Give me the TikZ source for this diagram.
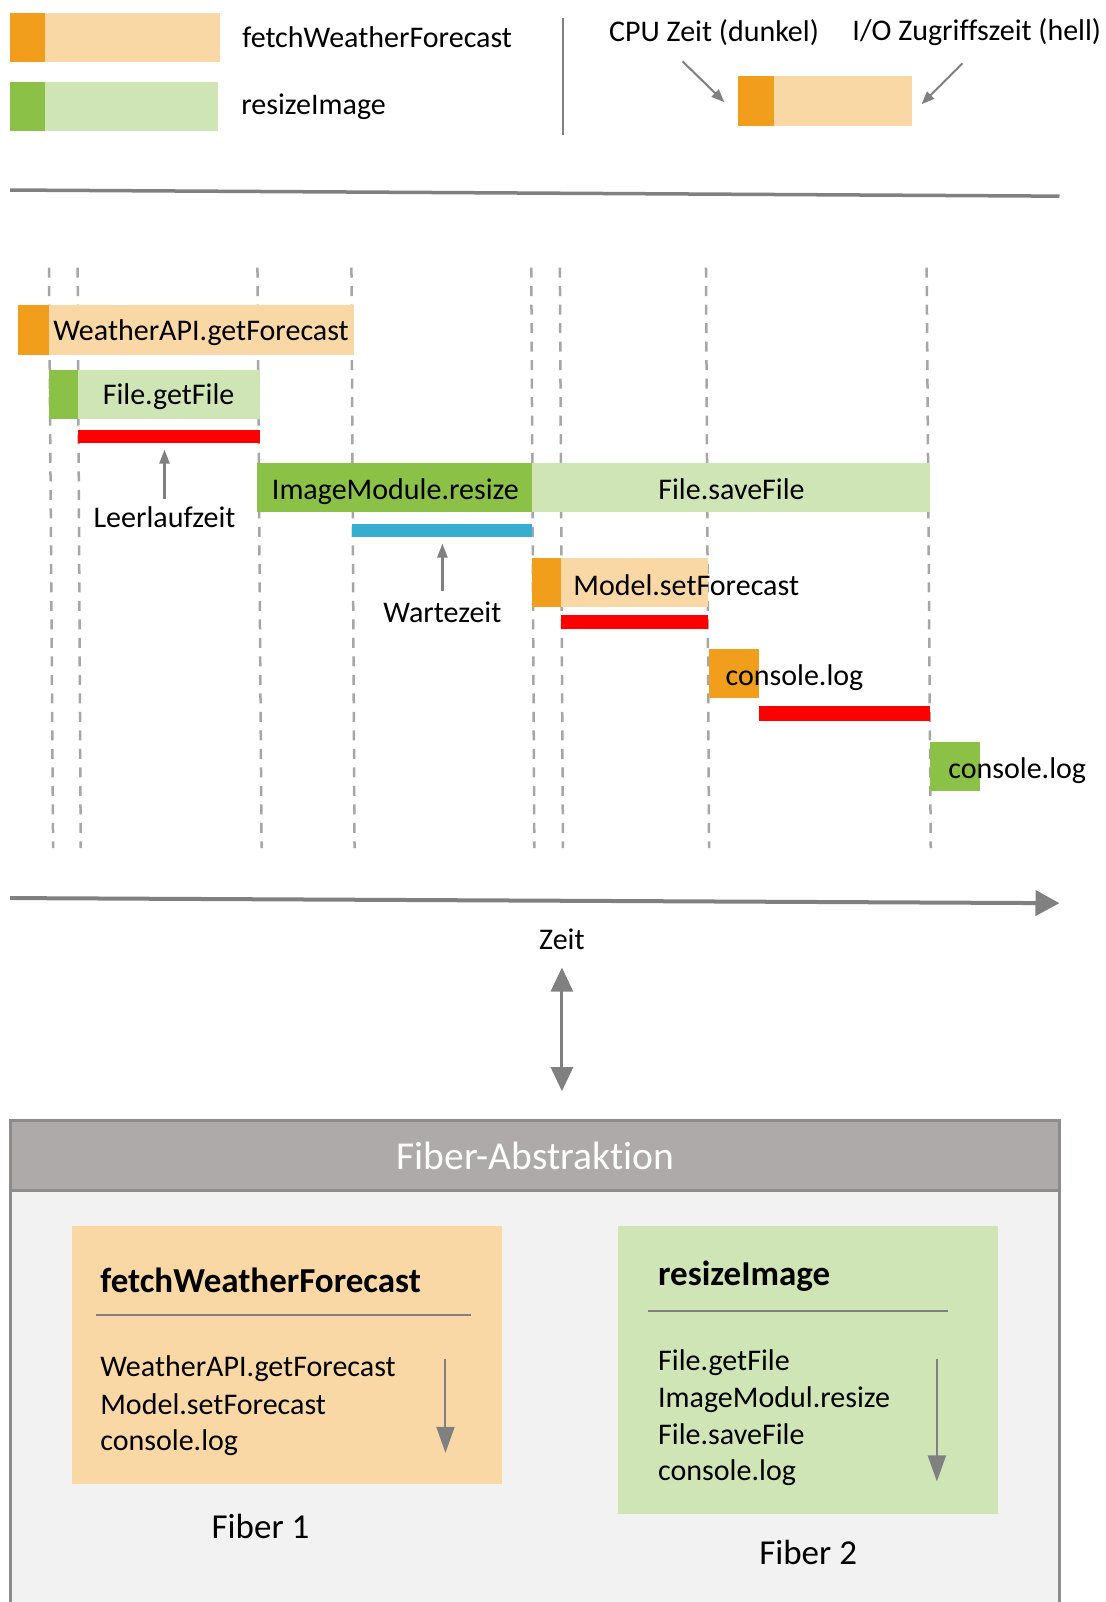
\documentclass[tikz,border=0pt]{standalone}
\usepackage{fontspec}
\setmainfont[Ligatures=NoCommon]{Carlito}
\usetikzlibrary{arrows.meta}

\definecolor{cpuOrange}{RGB}{241,158,28}
\definecolor{ioOrange}{RGB}{249,216,165}
\definecolor{cpuGreen}{RGB}{139,193,71}
\definecolor{ioGreen}{RGB}{208,229,181}
\definecolor{idleRed}{RGB}{255,0,0}
\definecolor{waitBlue}{RGB}{54,174,207}
\definecolor{lineGray}{RGB}{128,128,128}
\definecolor{dashGray}{RGB}{166,166,166}
\definecolor{headGray}{RGB}{173,170,169}
\definecolor{bodyGray}{RGB}{242,242,242}
\definecolor{frameGray}{RGB}{140,140,140}

\begin{document}
\begin{tikzpicture}[x=1.0213pt,y=-1.0213pt,
  txt/.style={inner sep=0pt, font=\fontsize{30}{36}\selectfont},
  boldtxt/.style={inner sep=0pt, font=\fontsize{35}{42}\selectfont\bfseries},
  fibertxt/.style={inner sep=0pt, font=\fontsize{35}{42}\selectfont},
  titletxt/.style={inner sep=0pt, font=\fontsize{39.5}{46}\selectfont, text=white},
  dashline/.style={draw=dashGray, line width=2.5pt, dash pattern=on 10pt off 8.5pt},
  rule/.style={draw=lineGray, line width=3.5pt},
  smallarrow/.style={draw=lineGray, line width=2pt, -{Triangle[length=13pt,width=10pt]}},
  markarrow/.style={draw=lineGray, line width=2.5pt, -{Triangle[length=14pt,width=10pt]}},
  bigarrow/.style={draw=lineGray, line width=3pt, {Triangle[length=24pt,width=22pt]}-{Triangle[length=24pt,width=22pt]}},
  listarrow/.style={draw=lineGray, line width=2pt, -{Triangle[length=26pt,width=18pt]}},
  axis/.style={draw=lineGray, line width=4pt, -{Triangle[length=24pt,width=25pt]}},
  frame/.style={draw=frameGray, line width=3pt}
]
\useasboundingbox (0,0) rectangle (1082,1568);

% ---------- legend ----------
\fill[ioOrange]  (10,13) rectangle (215,61);
\fill[cpuOrange] (10,13) rectangle (44,61);
\fill[ioGreen]   (10,80) rectangle (213,128);
\fill[cpuGreen]  (10,80) rectangle (44,128);
\node[txt, anchor=base west] (lgFetch)  at (237,46.5) {fetchWeatherForecast};
\node[txt, anchor=base west] (lgResize) at (236,112)  {resizeImage};

\draw[draw=lineGray, line width=2.5pt] (551,18) -- (551,132);

\node[txt, anchor=base west] (lgCpu) at (596,40.5) {CPU Zeit (dunkel)};
\node[txt, anchor=base east] (lgIo)  at (1078,40)  {I/O Zugriffszeit (hell)};
\fill[ioOrange]  (722,74) rectangle (893,123);
\fill[cpuOrange] (722,74) rectangle (758,123);
\coordinate (cpuFrom) at (668,60);
\coordinate (cpuTo)   at (709,100);
\coordinate (ioFrom)  at (942,62);
\coordinate (ioTo)    at (902,102);
\draw[smallarrow] (cpuFrom) -- (cpuTo);
\draw[smallarrow] (ioFrom) -- (ioTo);

% separator
\coordinate (sepL) at (10,186);
\coordinate (sepR) at (1037,192);
\draw[rule] (sepL) -- (sepR);

% ---------- time grid ----------
\foreach \xt/\xb in {48/52, 76/79, 252/256, 344/347, 520/523, 548/551, 691/694, 907/911}
  \draw[dashline] (\xt,262) -- (\xb,830);

% ---------- timeline bars ----------
% WeatherAPI.getForecast
\fill[ioOrange]  (18,299) rectangle (346,347);
\fill[cpuOrange] (18,299) rectangle (48,347);
\node[txt, anchor=base west] (wapi) at (52,333.5) {WeatherAPI.getForecast};
% File.getFile
\fill[ioGreen]  (48,362) rectangle (254,410);
\fill[cpuGreen] (48,362) rectangle (76,410);
\node[txt, anchor=base] (getfile) at (165,395.5) {File.getFile};
% idle time
\fill[idleRed] (76,421) rectangle (254,434);
\node[txt, anchor=base] (idle) at (161,516) {Leerlaufzeit};
\coordinate (idleFrom) at (161,488);
\coordinate (idleTip)  at (161,440);
\draw[markarrow] (idleFrom) -- (idleTip);
% ImageModule.resize / File.saveFile
\fill[cpuGreen] (252,453) rectangle (521,501);
\fill[ioGreen]  (521,453) rectangle (910,501);
\node[txt, anchor=base] (resize)   at (387,488.5) {ImageModule.resize};
\node[txt, anchor=base] (savefile) at (716,488.5) {File.saveFile};
% waiting time
\fill[waitBlue] (345,513) rectangle (521,526);
\node[txt, anchor=base] (wait) at (433,609.5) {Wartezeit};
\coordinate (waitFrom) at (433,578);
\coordinate (waitTip)  at (433,532);
\draw[markarrow] (waitFrom) -- (waitTip);
% Model.setForecast
\fill[ioOrange]  (521,546) rectangle (693,594);
\fill[cpuOrange] (521,546) rectangle (549,594);
\node[txt, anchor=base west] (setfc) at (561,582.5) {Model.setForecast};
\fill[idleRed] (549,602) rectangle (693,616);
% console.log (fiber 1)
\fill[cpuOrange] (694,635) rectangle (743,683);
\node[txt, anchor=base west] (logA) at (710,671) {console.log};
\fill[idleRed] (743,691) rectangle (910,706);
% console.log (fiber 2)
\fill[cpuGreen] (910,726) rectangle (959,774);
\node[txt, anchor=base west] (logB) at (928,762) {console.log};

% ---------- time axis ----------
\coordinate (axL) at (10,879);
\coordinate (axR) at (1037,884);
\draw[axis] (axL) -- (axR);
\node[txt, anchor=base] (zeit) at (550,929.5) {Zeit};

\coordinate (linkTop) at (550,947);
\coordinate (linkBot) at (550,1068);
\draw[bigarrow] (linkTop) -- (linkBot);

% ---------- fiber abstraction ----------
\fill[bodyGray] (10,1097) rectangle (1037,1580);
\fill[headGray] (10,1097) rectangle (1037,1165);
\draw[frame] (10,1580) -- (10,1097) -- (1037,1097) -- (1037,1580);
\draw[frame] (10,1165) -- (1037,1165);
\node[titletxt, anchor=base] (title) at (524,1144.5) {Fiber-Abstraktion};

% Fiber 1
\fill[ioOrange] (70,1200) rectangle (491,1452);
\node[boldtxt, anchor=base west] (f1head) at (98,1265) {fetchWeatherForecast};
\draw[draw=lineGray, line width=2.5pt] (94,1287) -- (461,1287);
\node[txt, anchor=base west] (f1a) at (98,1347.5) {WeatherAPI.getForecast};
\node[txt, anchor=base west] (f1b) at (98,1384.5) {Model.setForecast};
\node[txt, anchor=base west] (f1c) at (98,1419.5) {console.log};
\coordinate (f1From) at (436,1330);
\coordinate (f1To)   at (436,1422);
\draw[listarrow] (f1From) -- (f1To);
\node[fibertxt, anchor=base] (fiber1) at (255,1506) {Fiber 1};

% Fiber 2
\fill[ioGreen] (605,1200) rectangle (977,1482);
\node[boldtxt, anchor=base west] (f2head) at (644,1258) {resizeImage};
\draw[draw=lineGray, line width=2.5pt] (634,1283) -- (928,1283);
\node[txt, anchor=base west] (f2a) at (644,1341.5) {File.getFile};
\node[txt, anchor=base west] (f2b) at (644,1377.5) {ImageModul.resize};
\node[txt, anchor=base west] (f2c) at (644,1413.5) {File.saveFile};
\node[txt, anchor=base west] (f2d) at (644,1449.5) {console.log};
\coordinate (f2From) at (917,1330);
\coordinate (f2To)   at (917,1450);
\draw[listarrow] (f2From) -- (f2To);
\node[fibertxt, anchor=base] (fiber2) at (791,1531) {Fiber 2};
\end{tikzpicture}
\end{document}
